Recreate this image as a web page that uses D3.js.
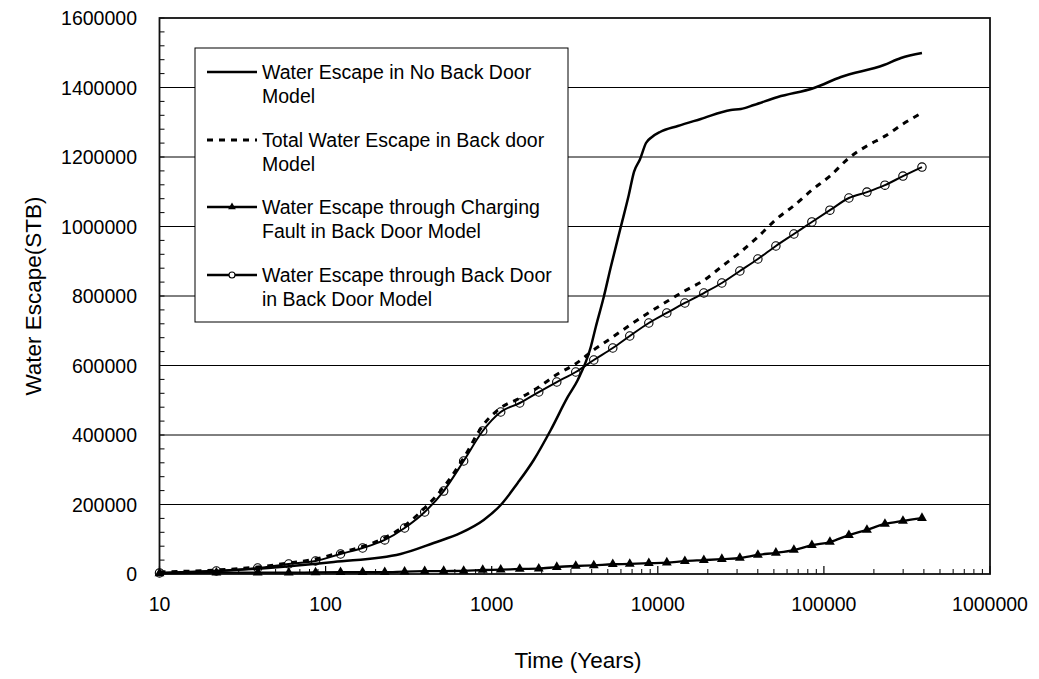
<!DOCTYPE html>
<html>
<head>
<meta charset="utf-8">
<script src="https://cdn.jsdelivr.net/npm/d3@7"></script>
<style>
  html, body { margin: 0; padding: 0; background: #fff; }
  svg { display: block; font-family: "Liberation Sans", Arial, sans-serif; }
</style>
</head>
<body>
<svg id="chart" width="1039" height="679"></svg>
<script>
// ---- Data ----
// Shared time grid (years) for the Back Door model series
const times = [10, 22, 39, 60, 87, 123, 167, 227, 299, 395, 514, 678, 883, 1133, 1475, 1920, 2465, 3207, 4117, 5357, 6781, 8829, 11330, 14550, 18930, 24300, 31190, 40040, 51390, 65970, 84650, 108700, 141400, 181600, 233100, 299200, 389400];

// Water Escape through Back Door in Back Door Model (circles)
const backDoor = [3000, 8600, 17300, 28800, 37400, 57600, 74800, 98000, 132400, 178400, 238800, 325200, 411500, 466200, 492100, 523700, 552500, 581300, 615800, 650400, 684900, 722300, 751100, 779900, 808600, 837400, 871900, 906500, 943900, 978400, 1013000, 1047000, 1082000, 1099000, 1119000, 1145000, 1171000];

// Water Escape through Charging Fault in Back Door Model (triangles)
const chargingFault = [2000, 4000, 4000, 4000, 4500, 5000, 5000, 5000, 7000, 8000, 8500, 9000, 11500, 12500, 14500, 15500, 20000, 23000, 25000, 28000, 29000, 31000, 33000, 37000, 40000, 43000, 46000, 55000, 61000, 69000, 83000, 92000, 112000, 127000, 144000, 153000, 161000];

// Total Water Escape in Back door Model (dashed)
const totalBackDoor = [5800, 11500, 20000, 31700, 43000, 62000, 79000, 104000, 139000, 190000, 250000, 334000, 427000, 478000, 506000, 538000, 574000, 605000, 645000, 682000, 716000, 752000, 784000, 815000, 845000, 885000, 925000, 970000, 1020000, 1060000, 1105000, 1145000, 1197000, 1232000, 1260000, 1295000, 1327000];

// Water Escape in No Back Door Model (solid, no markers)
const noBackDoorTimes = [10, 45, 112, 283, 447, 651, 895, 1133, 1434, 1791, 2267, 2870, 3297, 3949, 4232, 4727, 5212, 5986, 6688, 7190, 7815, 8492, 9228, 10311, 13200, 18160, 27530, 31620, 37870, 52830, 87060, 126600, 229800, 291000, 389400];
const noBackDoor = [2900, 17300, 34500, 57600, 89200, 118000, 155400, 198600, 261900, 328100, 414400, 509400, 558300, 653200, 710800, 797100, 883400, 998600, 1090600, 1157500, 1193500, 1240300, 1257600, 1271900, 1289200, 1309300, 1335300, 1338100, 1349600, 1372700, 1398600, 1430200, 1464700, 1484900, 1499300];

const xTicks = [10, 100, 1000, 10000, 100000, 1000000];
const yTicks = [0, 200000, 400000, 600000, 800000, 1000000, 1200000, 1400000, 1600000];

const legendLabels = [
  ["Water Escape in No Back Door", "Model"],
  ["Total Water Escape in Back door", "Model"],
  ["Water Escape through Charging", "Fault in Back Door Model"],
  ["Water Escape through Back Door", "in Back Door Model"]
];

// ---- Layout ----
const L = 159.5, R = 990, T = 18, B = 574;
const svg = d3.select("#chart");
const x = d3.scaleLog().domain([10, 1000000]).range([L, R]);
const y = d3.scaleLinear().domain([0, 1600000]).range([B, T]);

// Gridlines
svg.append("g").selectAll("line").data(yTicks.slice(1, -1)).join("line")
  .attr("x1", L).attr("x2", R)
  .attr("y1", d => y(d)).attr("y2", d => y(d))
  .attr("stroke", "#000").attr("stroke-width", 1);

// Y minor ticks (inside)
const yMinor = d3.range(0, 1600001, 40000);
svg.append("g").selectAll("line").data(yMinor).join("line")
  .attr("x1", L).attr("x2", L + 5)
  .attr("y1", d => y(d)).attr("y2", d => y(d))
  .attr("stroke", "#000").attr("stroke-width", 1);

// X ticks (inside): minor and major
const xMinor = [];
for (let e = 1; e < 6; e++) for (let m = 2; m <= 9; m++) xMinor.push(m * Math.pow(10, e));
svg.append("g").selectAll("line").data(xMinor).join("line")
  .attr("x1", d => x(d)).attr("x2", d => x(d))
  .attr("y1", B).attr("y2", B - 5)
  .attr("stroke", "#000").attr("stroke-width", 1);
svg.append("g").selectAll("line").data(xTicks).join("line")
  .attr("x1", d => x(d)).attr("x2", d => x(d))
  .attr("y1", B).attr("y2", B - 8)
  .attr("stroke", "#000").attr("stroke-width", 1.2);

// Frame
svg.append("rect").attr("x", L).attr("y", T).attr("width", R - L).attr("height", B - T)
  .attr("fill", "none").attr("stroke", "#111").attr("stroke-width", 1.8);

// Tick labels
svg.append("g").selectAll("text").data(yTicks).join("text")
  .attr("x", 137).attr("y", d => y(d)).attr("dy", "0.36em")
  .attr("text-anchor", "end").attr("font-size", 19.5).attr("fill", "#000")
  .text(d => d3.format("d")(d));
svg.append("g").selectAll("text").data(xTicks).join("text")
  .attr("x", d => x(d)).attr("y", 611)
  .attr("text-anchor", "middle").attr("font-size", 19.5).attr("fill", "#000")
  .text(d => d3.format("d")(d));

// Axis titles
svg.append("text").attr("x", 578).attr("y", 668).attr("text-anchor", "middle")
  .attr("font-size", 22.5).attr("fill", "#000").text("Time (Years)");
svg.append("text").attr("transform", "translate(41,296) rotate(-90)")
  .attr("text-anchor", "middle").attr("font-size", 22.5).attr("fill", "#000")
  .text("Water Escape(STB)");

// Lines
const line = d3.line().x(d => x(d[0])).y(d => y(d[1])).curve(d3.curveMonotoneX);
const zip = (a, b) => a.map((t, i) => [t, b[i]]);

svg.append("path").datum(zip(noBackDoorTimes, noBackDoor)).attr("d", line)
  .attr("fill", "none").attr("stroke", "#000").attr("stroke-width", 2.5);
svg.append("path").datum(zip(times, totalBackDoor)).attr("d", line)
  .attr("fill", "none").attr("stroke", "#000").attr("stroke-width", 3)
  .attr("stroke-dasharray", "6,6");
svg.append("path").datum(zip(times, chargingFault)).attr("d", line)
  .attr("fill", "none").attr("stroke", "#000").attr("stroke-width", 2.3);
svg.append("path").datum(zip(times, backDoor)).attr("d", line)
  .attr("fill", "none").attr("stroke", "#000").attr("stroke-width", 2);

// Markers
const tri = d3.symbol().type(d3.symbolTriangle).size(42);
svg.append("g").selectAll("path").data(zip(times, chargingFault)).join("path")
  .attr("d", tri).attr("transform", d => `translate(${x(d[0])},${y(d[1])})`)
  .attr("fill", "#000");
svg.append("g").selectAll("circle").data(zip(times, backDoor)).join("circle")
  .attr("cx", d => x(d[0])).attr("cy", d => y(d[1])).attr("r", 4.2)
  .attr("fill", "none").attr("stroke", "#000").attr("stroke-width", 1.1);

// Legend
const lg = svg.append("g");
lg.append("rect").attr("x", 195).attr("y", 48).attr("width", 373).attr("height", 274)
  .attr("fill", "#fff").attr("stroke", "#000").attr("stroke-width", 1);
const rowY = [72, 140, 207, 275];
legendLabels.forEach((lab, i) => {
  const yy = rowY[i];
  const s = lg.append("line").attr("x1", 207).attr("x2", 257).attr("y1", yy).attr("y2", yy)
    .attr("stroke", "#000").attr("stroke-width", i === 1 ? 3 : 2.3);
  if (i === 1) s.attr("stroke-dasharray", "6,6");
  if (i === 2) lg.append("path").attr("d", d3.symbol().type(d3.symbolTriangle).size(26)())
    .attr("transform", `translate(232,${yy})`).attr("fill", "#000");
  if (i === 3) lg.append("circle").attr("cx", 232).attr("cy", yy).attr("r", 3)
    .attr("fill", "#fff").attr("stroke", "#000").attr("stroke-width", 1.1);
  lab.forEach((t, j) => {
    lg.append("text").attr("x", 262).attr("y", yy + j * 23.5).attr("dy", "0.36em")
      .attr("font-size", 19.5).attr("fill", "#000").text(t);
  });
});
</script>
</body>
</html>
